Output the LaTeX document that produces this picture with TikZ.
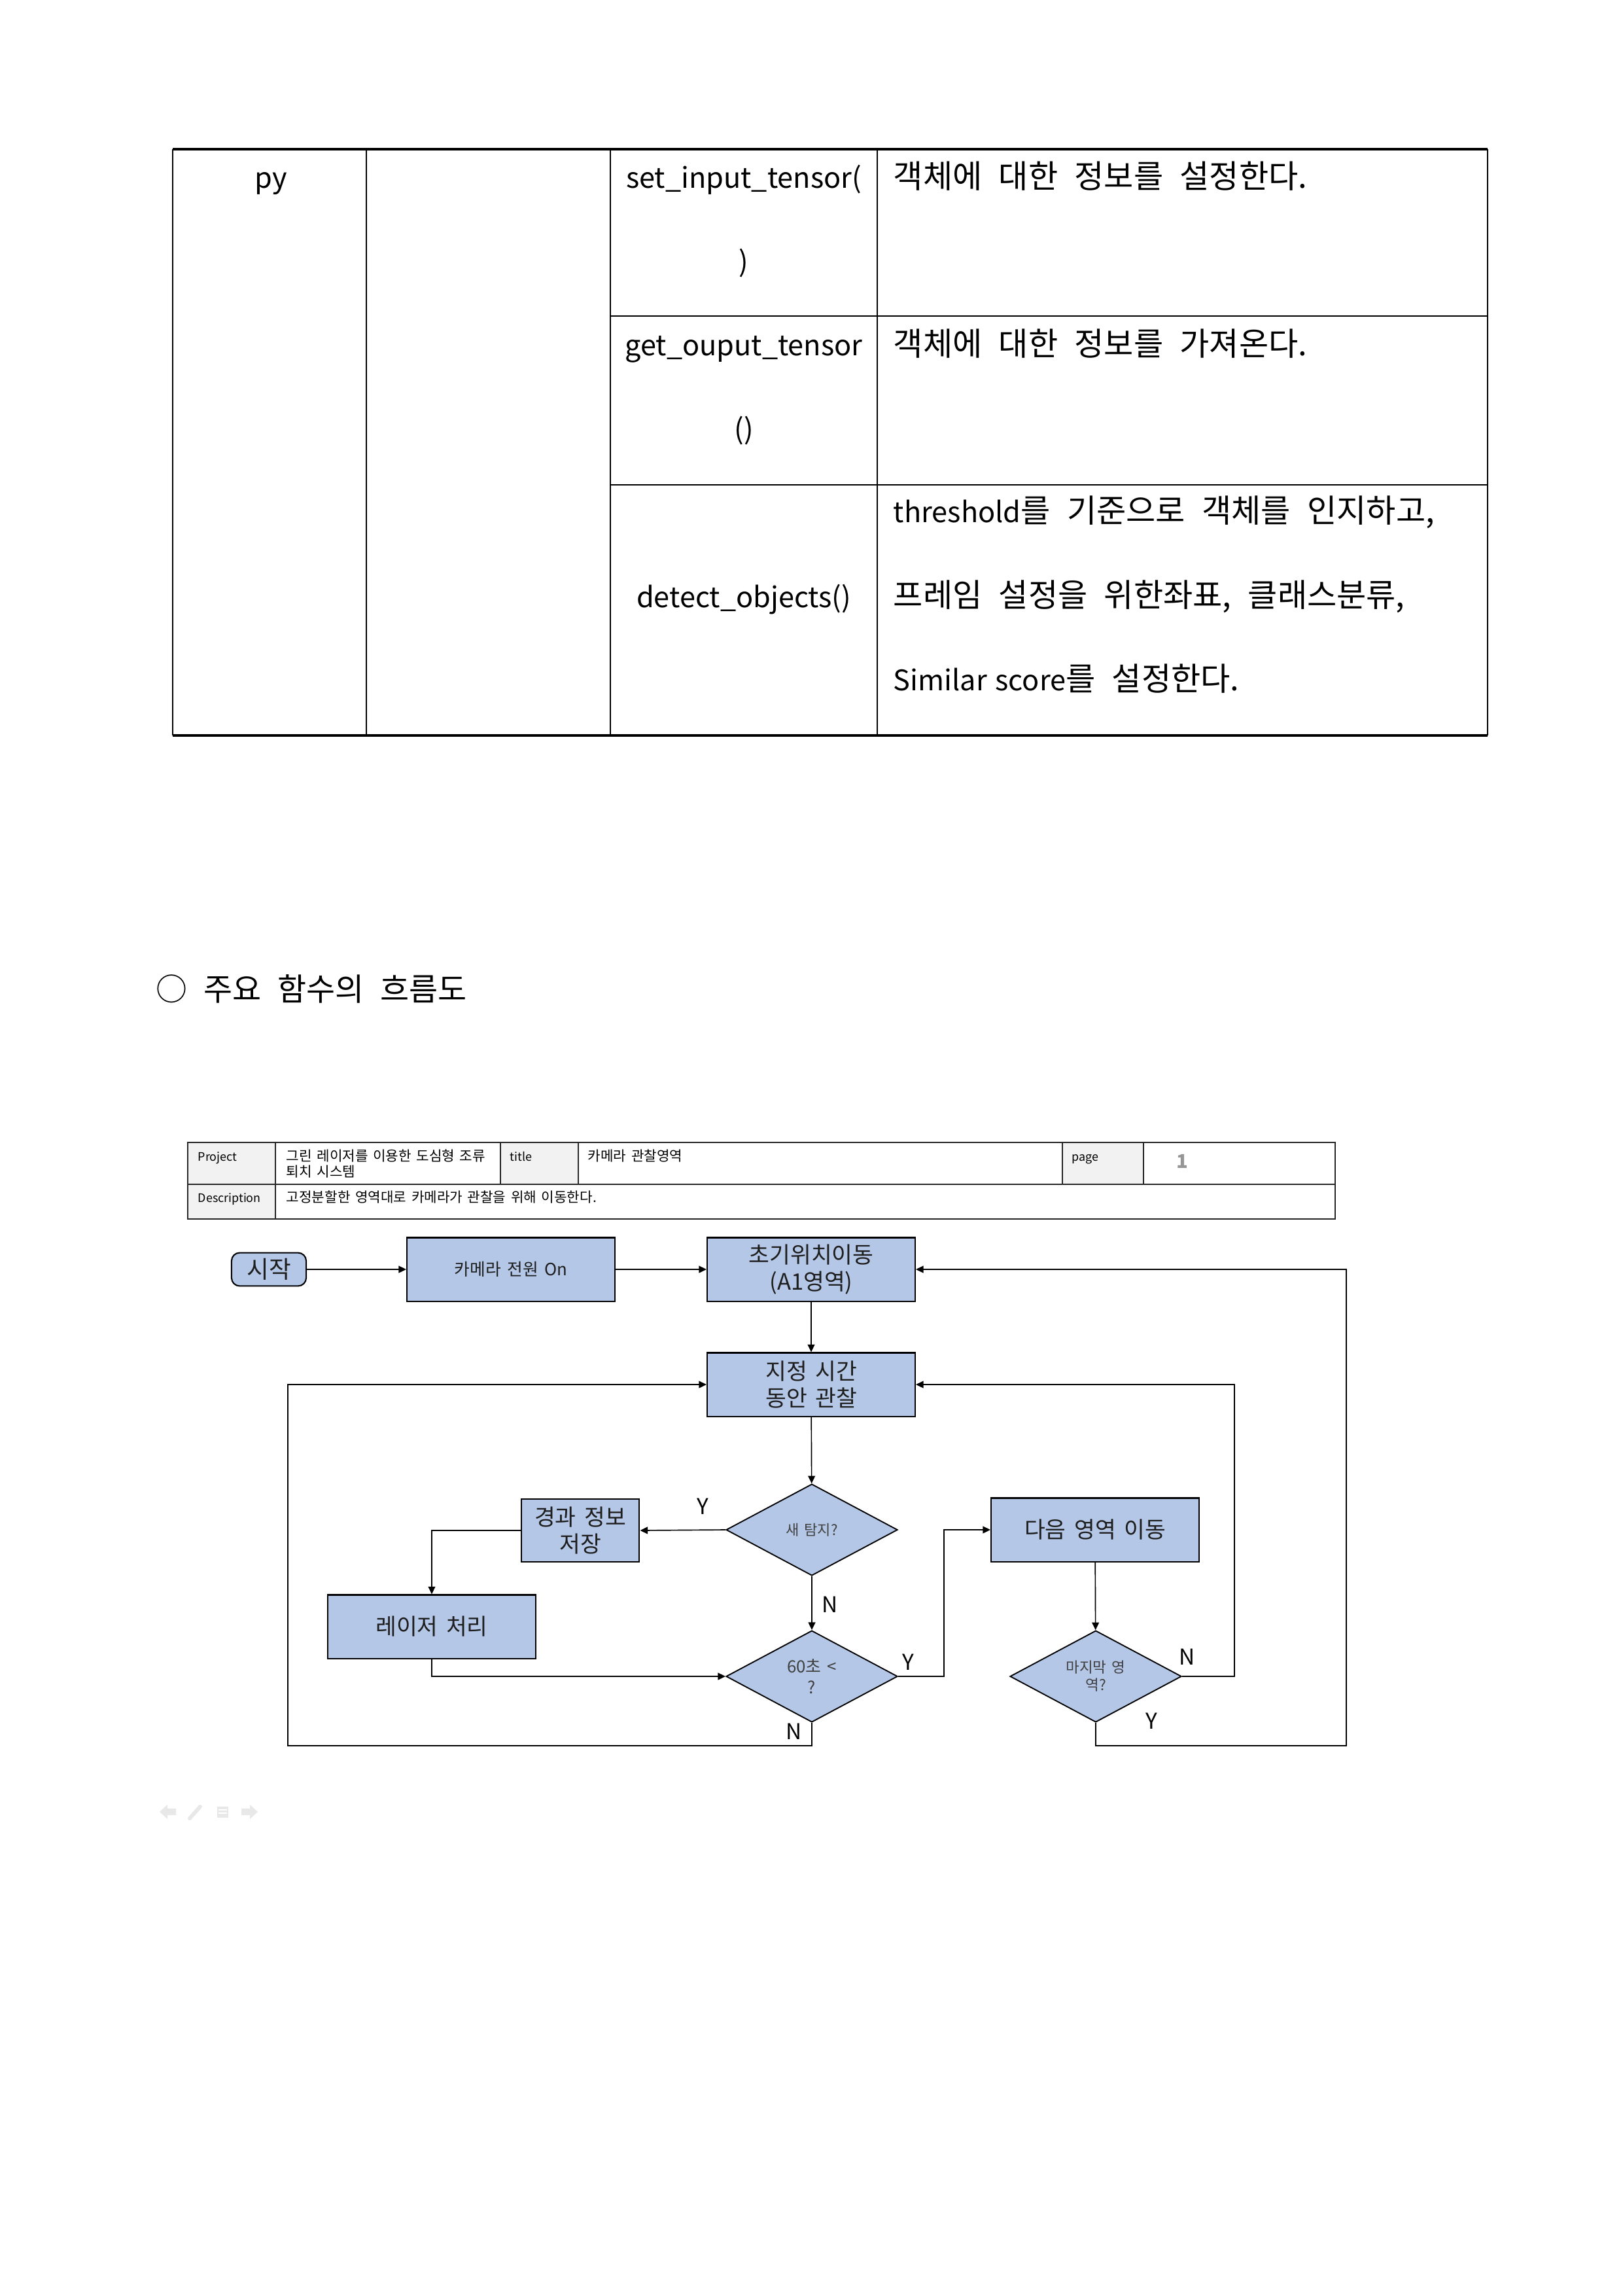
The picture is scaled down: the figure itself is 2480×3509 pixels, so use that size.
\documentclass[tikz,border=0pt]{standalone}
\usepackage{fontspec}
\setmainfont[WordSpace=2.3]{Noto Sans CJK KR}
\newfontfamily\lat[Scale=0.88,WordSpace=1.3]{Noto Sans CJK KR}
\newfontfamily\flow[WordSpace=1.6]{Noto Sans CJK KR}
\usetikzlibrary{shapes.geometric,arrows.meta}
\definecolor{boxblue}{RGB}{180,199,231}
\definecolor{hdrgray}{RGB}{242,242,242}
\definecolor{pagegray}{RGB}{150,150,150}
\definecolor{txtdark}{RGB}{30,30,30}
\definecolor{icongray}{RGB}{232,232,232}
\tikzset{
  tbl/.style={line width=0.5pt, draw=black},
  tbltxt/.style={font=\fontsize{11.8pt}{13pt}\selectfont, inner sep=0pt},
  hdr/.style={line width=0.45pt, draw=black!85},
  hdrtxt/.style={font=\flow\fontsize{5.1pt}{6pt}\selectfont, inner sep=0pt, anchor=base west},
  hdrlbl/.style={font=\flow\fontsize{4.3pt}{5pt}\selectfont, inner sep=0pt, anchor=base west},
  fbox/.style={rectangle, draw=black, line width=0.5pt, fill=boxblue, minimum width=76.3pt, minimum height=23.3pt, inner sep=0pt, align=center, text=txtdark, font=\flow\fontsize{8.3pt}{9.8pt}\selectfont},
  dbox/.style={diamond, draw=black, line width=0.45pt, fill=boxblue, minimum width=62.9pt, minimum height=33.6pt, inner sep=0pt, align=center, text=black!75},
  conn/.style={line width=0.4pt, draw=black, -{Triangle[length=2.8pt,width=2.6pt]}},
  yn/.style={font=\flow\fontsize{8pt}{9pt}\selectfont, inner sep=0pt, text=black}
}
\begin{document}
\begin{tikzpicture}[x=0.24pt,y=-0.24pt]
\fill[white] (0,0) rectangle (2480,3509);
\useasboundingbox (0,0) rectangle (2480,3509);

% ---------- upper table ----------
\draw[tbl] (264,228) -- (264,1124);
\draw[tbl] (2274,228) -- (2274,1124);
\draw[line width=0.8pt] (264,228) -- (2274,228);
\draw[line width=0.8pt] (264,1124) -- (2274,1124);
\draw[tbl] (560,228) -- (560,1124);
\draw[tbl] (933,228) -- (933,1124);
\draw[tbl] (1341,228) -- (1341,1124);
\draw[tbl] (933,483) -- (2274,483);
\draw[tbl] (933,741) -- (2274,741);

\node[tbltxt, anchor=base] (tpy) at (414,288) {\lat py};
\node[tbltxt, anchor=base] (tf1a) at (1137,288) {\lat set\_input\_tensor(};
\node[tbltxt, anchor=base] (tf1b) at (1137,416) {\lat )};
\node[tbltxt, anchor=base] (tf2a) at (1137,544) {\lat get\_ouput\_tensor};
\node[tbltxt, anchor=base] (tf2b) at (1137,672) {\lat ()};
\node[tbltxt, anchor=base] (tf3) at (1137,928) {\lat detect\_objects()};
\node[tbltxt, anchor=base west] (td1) at (1365,288) {객체에 대한 정보를 설정한다.};
\node[tbltxt, anchor=base west] (td2) at (1365,544) {객체에 대한 정보를 가져온다.};
\node[tbltxt, anchor=base west] (td3a) at (1365,799) {{\lat threshold}를 기준으로 객체를 인지하고,};
\node[tbltxt, anchor=base west] (td3b) at (1365,927) {프레임 설정을 위한좌표, 클래스분류,};
\node[tbltxt, anchor=base west] (td3c) at (1365,1055) {{\lat Similar score}를 설정한다.};

% ---------- heading ----------
\node[tbltxt, font=\fontsize{11.5pt}{13pt}\selectfont, anchor=base west] (head) at (238,1529) {○ 주요 함수의 흐름도};

% ---------- header box ----------
\fill[hdrgray] (287,1746) rectangle (421,1810);
\fill[hdrgray] (765,1746) rectangle (884,1810);
\fill[hdrgray] (1624,1746) rectangle (1748,1810);
\fill[hdrgray] (287,1810) rectangle (421,1863);
\draw[hdr] (287,1746) rectangle (2041,1863);
\draw[hdr] (287,1810) -- (2041,1810);
\foreach \xx in {421,765,884,1624,1748} \draw[hdr] (\xx,1746) -- (\xx,1810);
\draw[hdr] (421,1810) -- (421,1863);

\node[hdrlbl] (hp) at (302,1774) {Project};
\node[hdrtxt] (hpv1) at (437,1774) {그린 레이저를 이용한 도심형 조류};
\node[hdrtxt] (hpv2) at (437,1798) {퇴치 시스템};
\node[hdrlbl] (ht) at (779,1774) {title};
\node[hdrtxt] (htv) at (898,1774) {카메라 관찰영역};
\node[hdrlbl] (hpg) at (1638,1774) {page};
\node[inner sep=0pt, text=pagegray, font=\flow\fontsize{7pt}{8pt}\selectfont\bfseries] (hpgv) at (1807,1775) {1};
\node[hdrlbl] (hd) at (302,1837) {Description};
\node[hdrtxt] (hdv) at (437,1837) {고정분할한 영역대로 카메라가 관찰을 위해 이동한다.};

% ---------- flowchart nodes ----------
\node[rectangle, rounded corners=3pt, draw=black, line width=0.5pt, fill=boxblue, minimum width=27.4pt, minimum height=12.2pt, inner sep=0pt, text=txtdark, font=\flow\fontsize{8.8pt}{9pt}\selectfont] (start) at (411,1940) {시작};
\node[fbox, font=\flow\fontsize{6.2pt}{7pt}\selectfont] (cam) at (781,1940) {카메라 전원 On};
\node[fbox] (init) at (1240,1940) {초기위치이동\\(A1영역)};
\node[fbox] (obs) at (1240,2116) {지정 시간\\동안 관찰};
\node[dbox, font=\flow\fontsize{5.3pt}{6pt}\selectfont] (det) at (1241,2338) {새 탐지?};
\node[fbox, minimum width=43.4pt, minimum height=23pt] (save) at (887,2339) {경과 정보\\저장};
\node[fbox] (laser) at (660,2486) {레이저 처리};
\node[dbox, font=\flow\fontsize{6.2pt}{7.7pt}\selectfont] (sixty) at (1241,2562) {60초 <\\?};
\node[fbox] (next) at (1674,2338) {다음 영역 이동};
\node[dbox, font=\flow\fontsize{5.4pt}{6.5pt}\selectfont] (last) at (1675,2562) {마지막 영\\역?};

\coordinate (jy) at (1443,2562);
\coordinate (rN) at (1887,2340);
\coordinate (rY) at (2058,2668);
\coordinate (lN) at (440,2668);

% ---------- connectors ----------
\draw[conn] (start) -- (cam);
\draw[conn] (cam) -- (init);
\draw[conn] (init) -- (obs);
\draw[conn] (obs) -- (det);
\draw[conn] (det.west) -- (save.east);
\draw[conn] (save.west) -| (laser.north);
\draw[conn] (det.south) -- (sixty.north);
\draw[conn] (laser.south) |- (sixty.west);
\draw[conn] (sixty.east) -- (jy) |- (next.west);
\draw[conn] (next) -- (last);
\draw[conn] (last.east) -| (rN) |- (obs.east);
\draw[conn] (last.south) |- (rY) |- (init.east);
\draw[conn] (sixty.south) |- (lN) |- (obs.west);

% ---------- Y / N labels ----------
\node[yn] (l1) at (1074,2302) {Y};
\node[yn] (l2) at (1269,2452) {N};
\node[yn] (l3) at (1388,2540) {Y};
\node[yn] (l4) at (1214,2646) {N};
\node[yn] (l5) at (1815,2532) {N};
\node[yn] (l6) at (1760,2630) {Y};

% ---------- faint icons ----------
\fill[icongray] (244,2769) -- (256,2758) -- (256,2764) -- (269,2764) -- (269,2774) -- (256,2774) -- (256,2780) -- cycle;
\draw[icongray, line width=1.4pt, line cap=round] (290,2779) -- (306,2761);
\fill[icongray] (332,2761) rectangle (349,2778);
\draw[white, line width=0.5pt] (334,2766) -- (347,2766) (334,2771) -- (347,2771);
\fill[icongray] (394,2769) -- (382,2758) -- (382,2764) -- (369,2764) -- (369,2774) -- (382,2774) -- (382,2780) -- cycle;
\end{tikzpicture}
\end{document}
